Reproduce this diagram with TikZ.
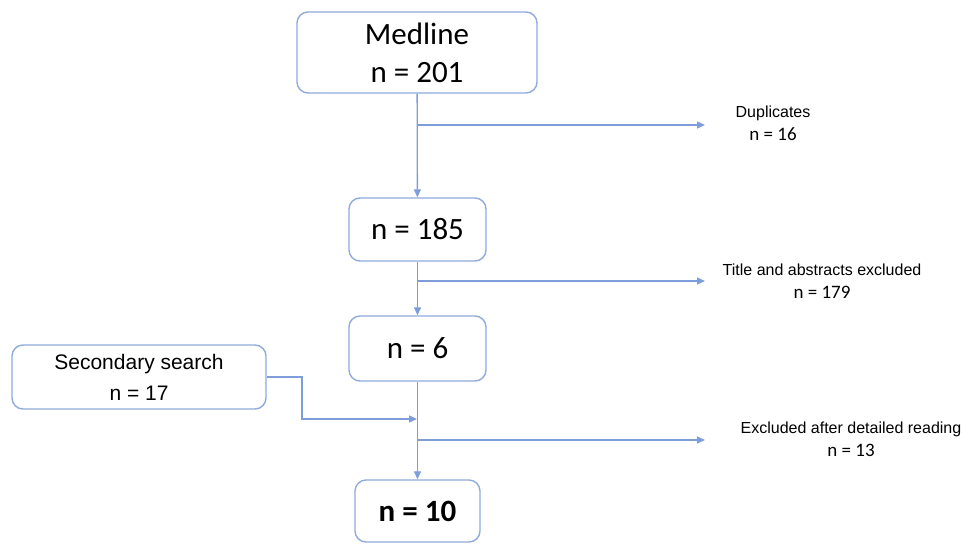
\documentclass[tikz,border=0pt]{standalone}
\usepackage{fontspec}
\usepackage{xcolor}
\usepackage{tikz}
\usetikzlibrary{arrows.meta}
\setmainfont{Carlito}
\newfontfamily\labelfont{Liberation Sans}
\definecolor{FlowBlue}{HTML}{7C9EDB}
\definecolor{BoxBlue}{HTML}{8FAADC}

\begin{document}
\begin{tikzpicture}[
    x=1pt, y=-1pt,
    box/.style={rectangle, rounded corners=11pt, draw=BoxBlue, line width=1.4pt, inner sep=0pt, align=center, font=\fontsize{31}{38}\selectfont},
    sidebox/.style={box, font=\labelfont\fontsize{21}{31}\selectfont},
    note/.style={inner sep=0pt, align=center, font=\labelfont\fontsize{16}{23}\selectfont},
    arrow/.style={-{Triangle[length=8pt, width=7pt]}, line width=1.3pt, color=FlowBlue}
]
\useasboundingbox (0,0) rectangle (965,543);

\node[box, minimum width=240pt, minimum height=81pt] (medline) at (417,52.5) {Medline\\n = 201};
\node[box, minimum width=137pt, minimum height=63pt] (screen) at (417.5,229.5) {n = 185};
\node[box, minimum width=137pt, minimum height=65pt] (full) at (417.5,348.5) {n = 6};
\node[box, minimum width=125pt, minimum height=62pt] (incl) at (417.5,511) {\textbf{n = 10}};
\node[sidebox, minimum width=254pt, minimum height=64pt] (second) at (139,377) {Secondary search\\n = 17};

\node[note] (dup) at (773,123) {Duplicates\\{\rmfamily\fontsize{19}{23}\selectfont n = 16}};
\node[note] (tiab) at (822,281) {Title and abstracts excluded\\{\rmfamily\fontsize{19}{23}\selectfont n = 179}};
\node[note] (excl) at (851,439) {Excluded after detailed reading\\{\rmfamily\fontsize{19}{23}\selectfont n = 13}};

% branch points on the main line
\coordinate (b1) at (417,125);
\coordinate (b2) at (417,281);
\coordinate (b3) at (417,440);
\coordinate (e1) at (705,125);
\coordinate (e2) at (705,281);
\coordinate (e3) at (705,440);
\coordinate (j1) at (302,419);
\coordinate (j2) at (417,419);

\draw[arrow] (medline) -- (screen);
\draw[arrow] (screen) -- (full);
\draw[arrow] (full) -- (incl);
\draw[arrow] (b1) -- (e1);
\draw[arrow] (b2) -- (e2);
\draw[arrow] (b3) -- (e3);
\draw[arrow] (second.east) -| (j1) -- (j2);

\end{tikzpicture}
\end{document}
